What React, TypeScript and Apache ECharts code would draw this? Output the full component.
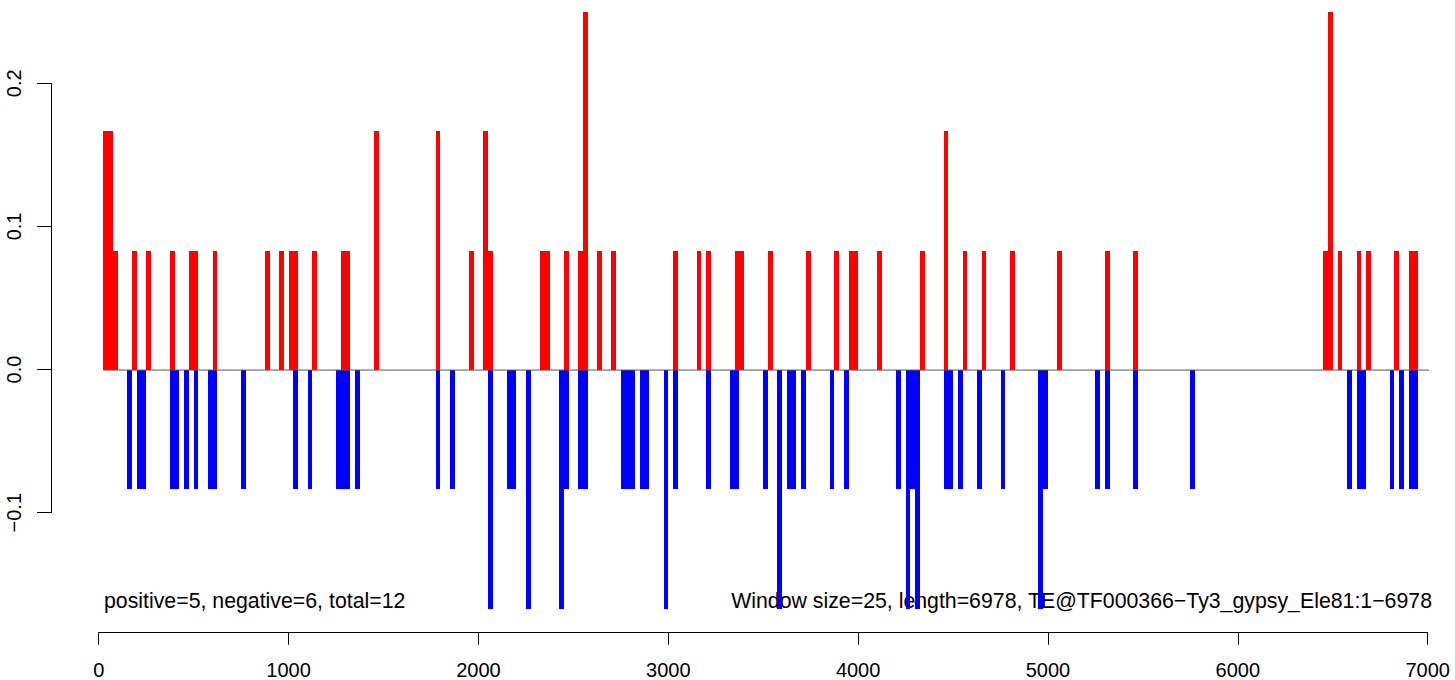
import React, { useEffect, useRef } from "react";
import * as echarts from "echarts";

// Window size (bp) — each bar covers one window
const WINDOW = 25;

// Positive (red) windows: start position and value
const posStarts = [
  25, 50, 75, 175, 250, 375, 475, 500, 600, 875, 950, 1000, 1025, 1125, 1275, 1300,
  1450, 1775, 1950, 2025, 2050, 2325, 2350, 2450, 2525, 2550, 2625, 2700, 3025, 3150,
  3200, 3350, 3375, 3525, 3725, 3875, 3950, 3975, 4100, 4325, 4450, 4550, 4650, 4800,
  5050, 5300, 5450, 6450, 6475, 6525, 6625, 6675, 6825, 6900, 6925,
];
const posValues = [
  0.1667, 0.1667, 0.0833, 0.0833, 0.0833, 0.0833, 0.0833, 0.0833, 0.0833, 0.0833, 0.0833, 0.0833, 0.0833, 0.0833, 0.0833, 0.0833,
  0.1667, 0.1667, 0.0833, 0.1667, 0.0833, 0.0833, 0.0833, 0.0833, 0.0833, 0.25, 0.0833, 0.0833, 0.0833, 0.0833,
  0.0833, 0.0833, 0.0833, 0.0833, 0.0833, 0.0833, 0.0833, 0.0833, 0.0833, 0.0833, 0.1667, 0.0833, 0.0833, 0.0833,
  0.0833, 0.0833, 0.0833, 0.0833, 0.25, 0.0833, 0.0833, 0.0833, 0.0833, 0.0833, 0.0833,
];

// Negative (blue) windows: start position and value
const negStarts = [
  150, 200, 225, 375, 400, 450, 500, 575, 600, 750, 1025, 1100, 1250, 1275, 1300, 1350,
  1775, 1850, 2050, 2150, 2175, 2250, 2425, 2450, 2525, 2550, 2750, 2775, 2800, 2850,
  2875, 2975, 3025, 3200, 3325, 3350, 3500, 3575, 3625, 3650, 3700, 3850, 3925, 4200,
  4250, 4275, 4300, 4450, 4475, 4525, 4625, 4750, 4950, 4975, 5250, 5300, 5450, 5750,
  6575, 6625, 6650, 6800, 6850, 6900, 6925,
];
const negValues = [
  -0.0833, -0.0833, -0.0833, -0.0833, -0.0833, -0.0833, -0.0833, -0.0833, -0.0833, -0.0833, -0.0833, -0.0833, -0.0833, -0.0833, -0.0833, -0.0833,
  -0.0833, -0.0833, -0.1667, -0.0833, -0.0833, -0.1667, -0.1667, -0.0833, -0.0833, -0.0833, -0.0833, -0.0833, -0.0833, -0.0833,
  -0.0833, -0.1667, -0.0833, -0.0833, -0.0833, -0.0833, -0.0833, -0.1667, -0.0833, -0.0833, -0.0833, -0.0833, -0.0833, -0.0833,
  -0.1667, -0.0833, -0.1667, -0.0833, -0.0833, -0.0833, -0.0833, -0.0833, -0.1667, -0.0833, -0.0833, -0.0833, -0.0833, -0.0833,
  -0.0833, -0.0833, -0.0833, -0.0833, -0.0833, -0.0833, -0.0833,
];

const xTicks = [0, 1000, 2000, 3000, 4000, 5000, 6000, 7000];
const yTicks = [-0.1, 0.0, 0.1, 0.2];
const zeroLineRange = [25, 7020];

const leftNote = "positive=5, negative=6, total=12";
const rightNote = "Window size=25, length=6978, TE@TF000366\u2212Ty3_gypsy_Ele81:1\u22126978";

const FONT = '"Liberation Sans", Arial, Helvetica, sans-serif';

function barSeries(starts: number[], values: number[], color: string) {
  return {
    type: "custom",
    xAxisIndex: 0,
    yAxisIndex: 0,
    data: starts.map((s, i) => [s, values[i]]),
    renderItem: (_params: any, api: any) => {
      const x0 = api.value(0);
      const v = api.value(1);
      const p1 = api.coord([x0, v]);
      const p2 = api.coord([x0 + WINDOW, 0]);
      const xa = Math.round(p1[0]);
      const xb = Math.round(p2[0]);
      const ya = Math.round(Math.min(p1[1], p2[1]));
      const yb = Math.round(Math.max(p1[1], p2[1]));
      return {
        type: "rect",
        shape: { x: xa, y: ya, width: xb - xa, height: yb - ya },
        style: { fill: color },
      };
    },
    z: 2,
  };
}

export default function App() {
  const ref = useRef<HTMLDivElement>(null);
  useEffect(() => {
    if (!ref.current) return;
    const chart = echarts.init(ref.current, undefined, { renderer: "svg" });
    chart.setOption({
      animation: false,
      backgroundColor: "#ffffff",
      textStyle: { fontFamily: FONT },
      grid: [
        { left: 98.7, width: 1329, top: 0, height: 632.7 },
        { left: 51, width: 10, top: 83.3, height: 429.4 },
      ],
      xAxis: [
        {
          type: "value",
          gridIndex: 0,
          min: xTicks[0],
          max: xTicks[xTicks.length - 1],
          interval: 1000,
          splitLine: { show: false },
          axisLine: { show: true, onZero: false, lineStyle: { color: "#000", width: 1 } },
          axisTick: { show: true, length: 12, lineStyle: { color: "#000", width: 1 } },
          axisLabel: {
            show: true,
            color: "#000",
            fontSize: 20,
            fontFamily: FONT,
            margin: 27,
            formatter: (v: number) => String(v),
          },
        },
        { type: "value", gridIndex: 1, show: false, min: 0, max: 1 },
      ],
      yAxis: [
        { type: "value", gridIndex: 0, show: false, min: -0.18333, max: 0.25833 },
        {
          type: "value",
          gridIndex: 1,
          min: yTicks[0],
          max: yTicks[yTicks.length - 1],
          interval: 0.1,
          splitLine: { show: false },
          axisLine: { show: true, lineStyle: { color: "#000", width: 1 } },
          axisTick: { show: true, length: 14, lineStyle: { color: "#000", width: 1 } },
          axisLabel: {
            show: true,
            rotate: 90,
            color: "#000",
            fontSize: 20,
            fontFamily: FONT,
            margin: 27,
            formatter: (v: number) => v.toFixed(1).replace("-", "\u2212"),
          },
        },
      ],
      series: [
        barSeries(posStarts, posValues, "#ff0000"),
        barSeries(negStarts, negValues, "#0000ff"),
        {
          type: "line",
          xAxisIndex: 0,
          yAxisIndex: 0,
          clip: false,
          symbol: "none",
          silent: true,
          data: [
            [zeroLineRange[0], 0],
            [zeroLineRange[1], 0],
          ],
          lineStyle: { color: "#555", width: 1 },
          z: 3,
        },
      ],
      graphic: [
        {
          type: "text",
          x: 104,
          y: 601,
          style: {
            text: leftNote,
            fill: "#000",
            fontSize: 21.3,
            fontFamily: FONT,
            align: "left",
            verticalAlign: "middle",
          },
        },
        {
          type: "text",
          x: 1432,
          y: 601,
          style: {
            text: rightNote,
            fill: "#000",
            fontSize: 21.3,
            fontFamily: FONT,
            align: "right",
            verticalAlign: "middle",
          },
        },
      ],
    });
    return () => chart.dispose();
  }, []);
  return (
    <div
      ref={ref}
      style={{ position: "fixed", left: 0, top: 0, width: 1455, height: 680 }}
    />
  );
}
